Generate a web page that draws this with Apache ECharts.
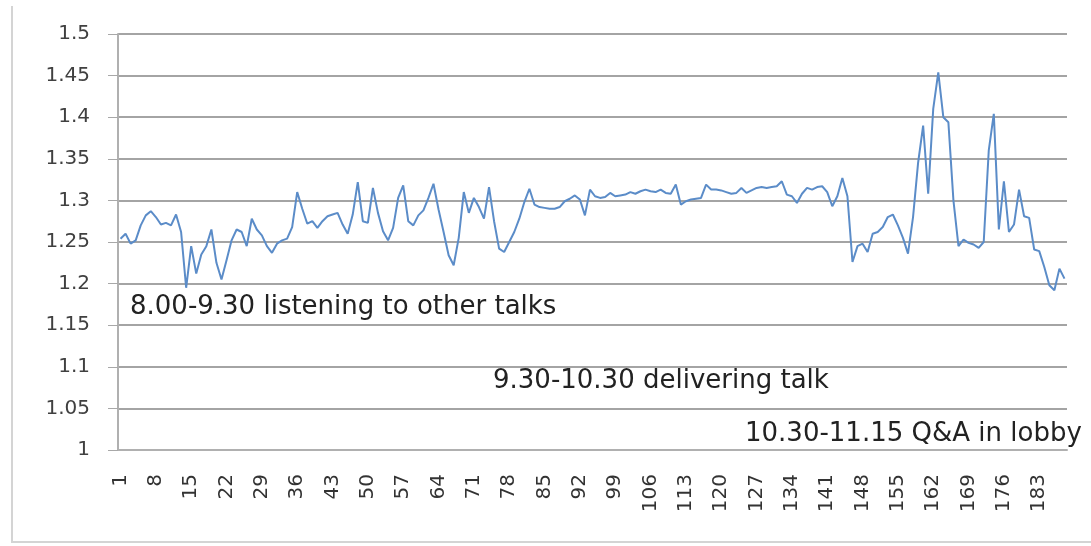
<!DOCTYPE html>
<html>
<head>
<meta charset="utf-8">
<script src="https://cdn.jsdelivr.net/npm/echarts@6/dist/echarts.min.js"></script>
<style>
  html, body { margin: 0; padding: 0; background: #fff; }
  #chart { width: 1091px; height: 546px; }
</style>
</head>
<body>
<div id="chart"></div>
<script>
// readings per sample, 1..188
const values = [
  1.254, 1.260, 1.248, 1.252, 1.270, 1.282, 1.287, 1.280, 1.271, 1.273,
  1.270, 1.283, 1.262, 1.195, 1.245, 1.212, 1.235, 1.245, 1.265, 1.225,
  1.205, 1.228, 1.252, 1.265, 1.262, 1.245, 1.278, 1.265, 1.258, 1.245,
  1.237, 1.248, 1.252, 1.254, 1.268, 1.310, 1.290, 1.272, 1.275, 1.267,
  1.275, 1.281, 1.283, 1.285, 1.271, 1.260, 1.283, 1.322, 1.275, 1.273,
  1.315, 1.285, 1.263, 1.252, 1.267, 1.303, 1.318, 1.275, 1.270, 1.282,
  1.288, 1.303, 1.320, 1.289, 1.262, 1.234, 1.222, 1.255, 1.310, 1.285,
  1.303, 1.292, 1.278, 1.316, 1.275, 1.242, 1.238, 1.250, 1.262, 1.278,
  1.298, 1.314, 1.295, 1.292, 1.291, 1.290, 1.290, 1.292, 1.299, 1.302,
  1.306, 1.301, 1.282, 1.313, 1.305, 1.303, 1.304, 1.309, 1.305, 1.306,
  1.307, 1.310, 1.308, 1.311, 1.313, 1.311, 1.310, 1.313, 1.309, 1.308,
  1.319, 1.295, 1.299, 1.301, 1.302, 1.303, 1.319, 1.313, 1.313, 1.312,
  1.310, 1.308, 1.309, 1.315, 1.309, 1.312, 1.315, 1.316, 1.315, 1.316,
  1.317, 1.323, 1.307, 1.305, 1.297, 1.308, 1.315, 1.313, 1.316, 1.317,
  1.310, 1.293, 1.305, 1.327, 1.305, 1.226, 1.245, 1.248, 1.238, 1.260,
  1.262, 1.268, 1.280, 1.283, 1.270, 1.255, 1.236, 1.280, 1.345, 1.390,
  1.308, 1.410, 1.454, 1.400, 1.394, 1.300, 1.245, 1.253, 1.249, 1.247,
  1.243, 1.250, 1.360, 1.404, 1.265, 1.323, 1.262, 1.271, 1.313, 1.281,
  1.279, 1.241, 1.239, 1.220, 1.198, 1.192, 1.218, 1.206
]
const categories = values.map((v, i) => String(i + 1))
const notes = [
  '8.00-9.30 listening to other talks',
  '9.30-10.30 delivering talk',
  '10.30-11.15 Q&A in lobby'
]

const font = 'DejaVu Sans'
const noteStyle = (text, x, y) => ({
  type: 'text',
  x: x,
  y: y,
  z: 10,
  style: {
    text: text,
    font: '26px "DejaVu Sans"',
    fill: '#222',
    textVerticalAlign: 'middle'
  }
})

const chart = echarts.init(document.getElementById('chart'))
chart.setOption({
  animation: false,
  grid: { left: 118, right: 24, top: 34, bottom: 96 },
  xAxis: {
    type: 'category',
    data: categories,
    boundaryGap: true,
    axisLine: { lineStyle: { color: '#b0b0b0', width: 2 } },
    axisTick: { interval: 0, length: 7, lineStyle: { color: '#a8a8a8' } },
    axisLabel: {
      interval: 6,
      rotate: 90,
      margin: 24,
      color: '#333',
      fontFamily: font,
      fontSize: 20
    },
    splitLine: { show: false }
  },
  yAxis: {
    type: 'value',
    min: 1,
    max: 1.5,
    interval: 0.05,
    axisLine: { show: true, lineStyle: { color: '#b0b0b0', width: 2 } },
    axisTick: { show: true, length: 10, lineStyle: { color: '#a8a8a8' } },
    axisLabel: {
      margin: 28,
      color: '#404040',
      fontFamily: font,
      fontSize: 20,
      formatter: v => String(+v.toFixed(2))
    },
    splitLine: { lineStyle: { color: '#a4a4a4', width: 2 } }
  },
  series: [{
    type: 'line',
    data: values,
    showSymbol: false,
    smooth: false,
    lineStyle: { color: '#5b8cc8', width: 2 },
    itemStyle: { color: '#5b8cc8' }
  }],
  graphic: [
    { type: 'polyline', shape: { points: [[12, 6], [12, 542], [1091, 542]] },
      style: { stroke: '#d4d4d4', lineWidth: 2, fill: null } },
    noteStyle(notes[0], 130, 307),
    noteStyle(notes[1], 493, 381),
    noteStyle(notes[2], 745, 434)
  ]
})
</script>
</body>
</html>
